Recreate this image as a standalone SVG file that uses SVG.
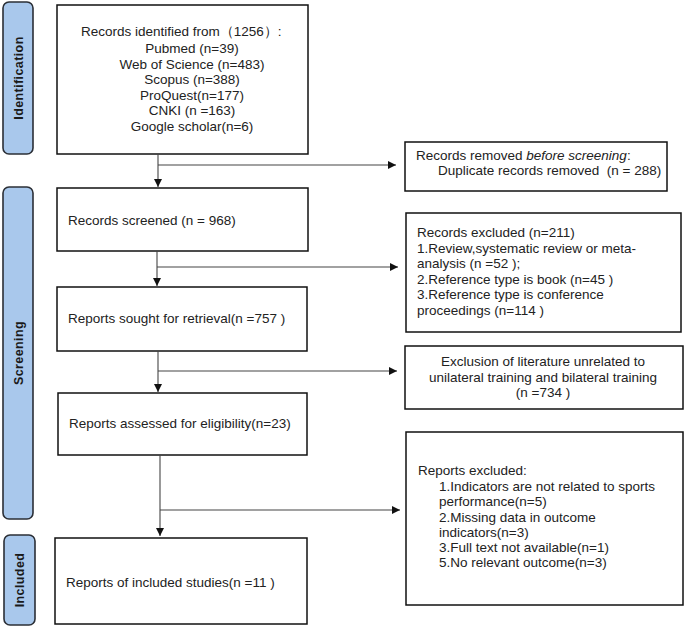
<svg xmlns="http://www.w3.org/2000/svg" width="685" height="628" viewBox="0 0 685 628">
<style>
.box{fill:#fff;stroke:#111;stroke-width:1.5}
.side{fill:#A9C8EC;stroke:#2b2f36;stroke-width:1.6}
.t{font-family:"Liberation Sans",Arial,sans-serif;font-size:13.5px;fill:#222}
.c{text-anchor:middle}
.lab{font-family:"Liberation Sans",Arial,sans-serif;font-size:12.5px;font-weight:bold;fill:#1a1a1a;text-anchor:middle;letter-spacing:0.4px}
.ln{stroke:#444;stroke-width:1.1;fill:none}
</style>
<defs>
<marker id="ah" markerWidth="8" markerHeight="8" refX="8" refY="4" orient="auto" markerUnits="userSpaceOnUse">
<path d="M0,0 L8,4 L0,8 Z" fill="#111"/>
</marker>
</defs>
<g id="side-identification">
<rect class="side" x="3" y="2" width="30" height="152" rx="6"/>
<text class="lab" transform="translate(23,78) rotate(-90)">Identification</text>
</g>
<g id="side-screening">
<rect class="side" x="3" y="187" width="30" height="332" rx="6"/>
<text class="lab" transform="translate(23,353) rotate(-90)">Screening</text>
</g>
<g id="side-included">
<rect class="side" x="4" y="535" width="31" height="90" rx="6"/>
<text class="lab" transform="translate(24,580) rotate(-90)">Included</text>
</g>
<g id="n-identified">
<rect class="box" x="57" y="5" width="251" height="149"/>
<text class="t" x="81" y="36">Records identified from（1256）:</text>
<text class="t c" x="192" y="53">Pubmed (n=39)</text>
<text class="t c" x="192" y="69">Web of Science (n=483)</text>
<text class="t c" x="192" y="84">Scopus (n=388)</text>
<text class="t c" x="192" y="100">ProQuest(n=177)</text>
<text class="t c" x="192" y="115">CNKI (n =163)</text>
<text class="t c" x="192" y="131">Google scholar(n=6)</text>
</g>
<g id="n-removed">
<rect class="box" x="405" y="142" width="262" height="49"/>
<text class="t" x="416" y="160">Records removed <tspan font-style="italic">before screening</tspan>:</text>
<text class="t" x="438" y="175" xml:space="preserve">Duplicate records removed  (n = 288)</text>
</g>
<g id="n-screened">
<rect class="box" x="57" y="188" width="251" height="63"/>
<text class="t" x="68" y="225">Records screened (n = 968)</text>
</g>
<g id="n-excluded">
<rect class="box" x="406" y="213" width="275" height="119"/>
<text class="t" x="417" y="237">Records excluded (n=211)</text>
<text class="t" x="417" y="253">1.Review,systematic review or meta-</text>
<text class="t" x="417" y="268">analysis (n =52 );</text>
<text class="t" x="417" y="284">2.Reference type is book (n=45 )</text>
<text class="t" x="417" y="299">3.Reference type is conference</text>
<text class="t" x="417" y="315">proceedings (n=114 )</text>
</g>
<g id="n-sought">
<rect class="box" x="57" y="287" width="250" height="64"/>
<text class="t" x="68" y="323">Reports sought for retrieval(n =757 )</text>
</g>
<g id="n-unrelated">
<rect class="box" x="405" y="346" width="278" height="63"/>
<text class="t c" x="543" y="366">Exclusion of literature unrelated to</text>
<text class="t c" x="543" y="382">unilateral training and bilateral training</text>
<text class="t c" x="543" y="397">(n =734 )</text>
</g>
<g id="n-assessed">
<rect class="box" x="58" y="393" width="249" height="62"/>
<text class="t" x="69" y="428">Reports assessed for eligibility(n=23)</text>
</g>
<g id="n-reports-excluded">
<rect class="box" x="406" y="432" width="277" height="173"/>
<text class="t" x="418" y="475">Reports excluded:</text>
<text class="t" x="439" y="491">1.Indicators are not related to sports</text>
<text class="t" x="439" y="506">performance(n=5)</text>
<text class="t" x="439" y="522">2.Missing data in outcome</text>
<text class="t" x="439" y="537">indicators(n=3)</text>
<text class="t" x="439" y="552">3.Full text not available(n=1)</text>
<text class="t" x="439" y="567">5.No relevant outcome(n=3)</text>
</g>
<g id="n-included">
<rect class="box" x="55" y="538" width="252" height="86"/>
<text class="t" x="66" y="587">Reports of included studies(n =11 )</text>
</g>
<g id="connectors">
<line class="ln" x1="158" y1="154" x2="158" y2="187" marker-end="url(#ah)"/>
<line class="ln" x1="158" y1="165" x2="396" y2="165" marker-end="url(#ah)"/>
<line class="ln" x1="157" y1="251" x2="157" y2="286" marker-end="url(#ah)"/>
<line class="ln" x1="157" y1="267" x2="398" y2="267" marker-end="url(#ah)"/>
<line class="ln" x1="158" y1="351" x2="158" y2="392" marker-end="url(#ah)"/>
<line class="ln" x1="158" y1="371" x2="397" y2="371" marker-end="url(#ah)"/>
<line class="ln" x1="160" y1="455" x2="160" y2="536" marker-end="url(#ah)"/>
<line class="ln" x1="160" y1="510" x2="400" y2="510" marker-end="url(#ah)"/>
</g>
</svg>
